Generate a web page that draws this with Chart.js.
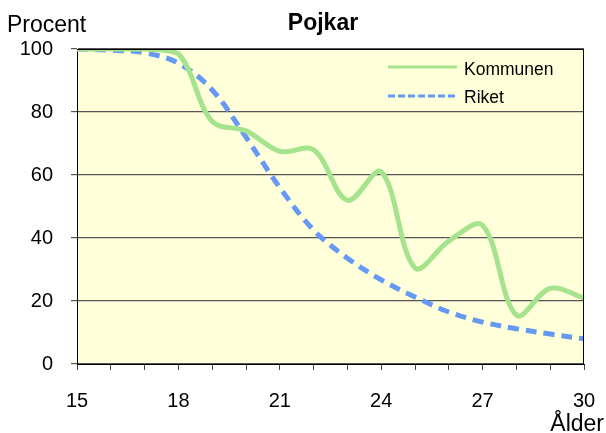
<!DOCTYPE html>
<html lang="sv">
<head>
    <meta charset="UTF-8">
    <title>Pojkar</title>
    <style>
        body { margin: 0; background: #fff; }
        #wrap { width: 606px; height: 433px; }
    </style>
</head>
<body>
    <div id="wrap">
        <canvas id="chart" width="606" height="433"></canvas>
    </div>

    <script src="https://cdn.jsdelivr.net/npm/chart.js"></script>
    <script>
        // Data
        const ages = [15, 16, 17, 18, 19, 20, 21, 22, 23, 24, 25, 26, 27, 28, 29, 30];
        const kommunen = [100, 100, 100, 98.5, 77, 74, 67.5, 68, 52, 61, 30.5, 39, 44, 15.5, 24, 21];
        const riket = [100, 99.6, 98.8, 95.5, 87, 72, 56, 42.5, 33.6, 26.7, 21.3, 16.5, 13.3, 11.2, 9.5, 8];
        const xTickLabels = [15, 18, 21, 24, 27, 30];

        const green = '#A6E38E';
        const blue = '#6699F5';
        const fontFamily = '"Liberation Sans", Arial, sans-serif';

        // plot area background, right/top border, legend and loose texts
        const plotDecor = {
            id: 'plotDecor',
            beforeDraw(chart) {
                const a = chart.chartArea;
                const c = chart.ctx;
                c.save();
                c.fillStyle = '#FFFFDA';
                c.fillRect(a.left, a.top, a.right - a.left, a.bottom - a.top);
                c.restore();
            },
            afterDraw(chart) {
                const a = chart.chartArea;
                const c = chart.ctx;
                c.save();
                c.strokeStyle = '#000';
                c.lineWidth = 1;
                c.beginPath();
                c.moveTo(a.left, a.top + 0.5);
                c.lineTo(a.right - 0.5, a.top + 0.5);
                c.lineTo(a.right - 0.5, a.bottom);
                c.stroke();

                // legend
                c.lineWidth = 3;
                c.strokeStyle = green;
                c.beginPath();
                c.moveTo(388, 67);
                c.lineTo(457, 67);
                c.stroke();
                c.strokeStyle = blue;
                c.setLineDash([7, 3]);
                c.beginPath();
                c.moveTo(388, 96);
                c.lineTo(457, 96);
                c.stroke();
                c.setLineDash([]);

                c.fillStyle = '#000';
                c.font = '17.5px ' + fontFamily;
                c.textBaseline = 'alphabetic';
                c.textAlign = 'left';
                c.fillText('Kommunen', 464, 75);
                c.fillText('Riket', 464, 103);

                c.font = '23px ' + fontFamily;
                c.fillText('Procent', 7, 32);
                c.textAlign = 'right';
                c.fillText('Ålder', 604, 431);
                c.textAlign = 'center';
                c.font = 'bold 23px ' + fontFamily;
                c.fillText('Pojkar', 323, 30);
                c.restore();
            }
        };

        new Chart(document.getElementById('chart'), {
            type: 'line',
            data: {
                labels: ages,
                datasets: [
                    {
                        label: 'Kommunen',
                        data: ages.map((a, i) => ({ x: a, y: kommunen[i] })),
                        borderColor: green,
                        borderWidth: 5,
                        pointRadius: 0,
                        tension: 0.35,
                        fill: false
                    },
                    {
                        label: 'Riket',
                        data: ages.map((a, i) => ({ x: a, y: riket[i] })),
                        borderColor: blue,
                        borderWidth: 5,
                        borderDash: [11, 7],
                        pointRadius: 0,
                        tension: 0.35,
                        fill: false
                    }
                ]
            },
            plugins: [plotDecor],
            options: {
                responsive: false,
                animation: false,
                layout: { padding: { left: 0, top: 49, right: 22, bottom: 0 } },
                plugins: {
                    legend: { display: false },
                    title: { display: false },
                    tooltip: { enabled: false }
                },
                scales: {
                    x: {
                        type: 'linear',
                        min: 15,
                        max: 30,
                        afterFit(s) {
                            s.height = 69;
                            s.paddingLeft = 0;
                            s.paddingRight = 0;
                        },
                        border: { color: '#000', width: 1 },
                        grid: {
                            drawOnChartArea: false,
                            drawTicks: true,
                            tickLength: 6,
                            color: '#444'
                        },
                        ticks: {
                            stepSize: 1,
                            autoSkip: false,
                            maxRotation: 0,
                            padding: 19,
                            color: '#000',
                            font: { family: fontFamily, size: 20 },
                            callback: v => xTickLabels.includes(v) ? String(v) : ''
                        }
                    },
                    y: {
                        min: 0,
                        max: 100,
                        afterFit(s) {
                            s.width = 77;
                            s.paddingTop = 0;
                            s.paddingBottom = 0;
                        },
                        border: { color: '#000', width: 1 },
                        grid: {
                            color: '#555',
                            lineWidth: 1.2,
                            tickLength: 6
                        },
                        ticks: {
                            stepSize: 20,
                            padding: 18,
                            color: '#000',
                            font: { family: fontFamily, size: 20 }
                        }
                    }
                }
            }
        });
    </script>
</body>
</html>
